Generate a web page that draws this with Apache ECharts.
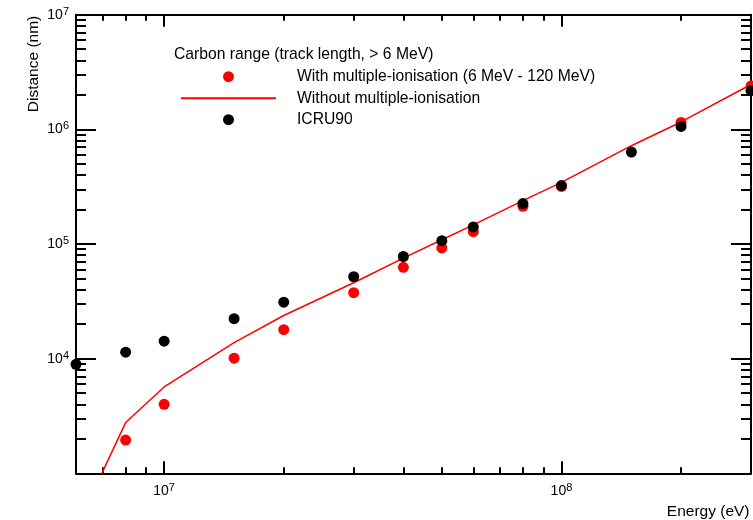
<!DOCTYPE html>
<html>
<head>
<meta charset="utf-8">
<script src="https://cdn.jsdelivr.net/npm/echarts@6/dist/echarts.min.js"></script>
<style>
html,body{margin:0;padding:0;background:#fff;}
#chart{width:753px;height:520px;}
</style>
</head>
<body>
<div id="chart"></div>
<script>
// ---- data (energies in MeV -> eV, distances in nm) ----
const MeV = 1e6;
const energyWithMI = [8, 10, 15, 20, 30, 40, 50, 60, 80, 100, 200, 300];
const distWithMI = [1950, 4000, 10100, 17900, 37600, 62600, 92500, 128000, 213000, 318000, 1148000, 2390000];

const energyWithoutMI = [6, 8, 10, 15, 20, 30, 40, 50, 60, 80, 100, 150, 200, 300];
const distWithoutMI = [330, 2770, 5660, 13780, 23800, 45900, 75200, 109000, 147000, 239000, 345000, 720000, 1160000, 2460000];

const energyICRU = [6, 8, 10, 15, 20, 30, 40, 50, 60, 80, 100, 150, 200, 300];
const distICRU = [8920, 11400, 14200, 22300, 31100, 51800, 77800, 107000, 141000, 225000, 323000, 634000, 1060000, 2180000];

const xMajorTicks = [1e7, 1e8];
const xMinorTicks = [7e6, 8e6, 9e6, 2e7, 3e7, 4e7, 5e7, 6e7, 7e7, 8e7, 9e7, 2e8];
const yLabelTicks = [1e4, 1e5, 1e6, 1e7];
const yMajorTicks = [1e4, 1e5, 1e6];
const yMinorTicks = [2e3,3e3,4e3,5e3,6e3,7e3,8e3,9e3,
                     2e4,3e4,4e4,5e4,6e4,7e4,8e4,9e4,
                     2e5,3e5,4e5,5e5,6e5,7e5,8e5,9e5,
                     2e6,3e6,4e6,5e6,6e6,7e6,8e6,9e6];

const seriesNames = [
  'With multiple-ionisation (6 MeV - 120 MeV)',
  'Without multiple-ionisation',
  'ICRU90'
];
const legendTitle = 'Carbon range (track length, > 6 MeV)';
const xName = 'Energy (eV)';
const yName = 'Distance (nm)';

const pairs = (xs, ys) => xs.map((x, i) => [x * MeV, ys[i]]);

const FONT = '"Liberation Sans", Arial, Helvetica, sans-serif';
const supFmt = v => '10{sup|' + Math.round(Math.log10(v)) + '}';
const labelRich = {
  sup: { fontSize: 11, fontFamily: FONT, color: '#000', verticalAlign: 'top', padding: [0, 0, 6, 0] }
};

function xAxisDef(position, ticks, len, showLine, showLabel) {
  return {
    type: 'log', logBase: 10, min: 6e6, max: 3e8, position: position,
    axisLine: { show: showLine, lineStyle: { color: '#000', width: 2 } },
    axisTick: { show: true, inside: true, length: len, customValues: ticks, lineStyle: { color: '#000', width: 2 } },
    axisLabel: showLabel ? {
      show: true, customValues: xMajorTicks, margin: 9, formatter: supFmt,
      color: '#000', fontSize: 14, fontFamily: FONT, rich: labelRich
    } : { show: false },
    splitLine: { show: false }, minorTick: { show: false }
  };
}
function yAxisDef(position, ticks, len, showLine, showLabel) {
  return {
    type: 'log', logBase: 10, min: 1e3, max: 1e7, position: position,
    axisLine: { show: showLine, lineStyle: { color: '#000', width: 2 } },
    axisTick: { show: true, inside: true, length: len, customValues: ticks, lineStyle: { color: '#000', width: 2 } },
    axisLabel: showLabel ? {
      show: true, customValues: yLabelTicks, margin: 7, formatter: supFmt,
      color: '#000', fontSize: 14, fontFamily: FONT, rich: labelRich
    } : { show: false },
    splitLine: { show: false }, minorTick: { show: false }
  };
}

const chart = echarts.init(document.getElementById('chart'), null, { renderer: 'canvas' });
chart.setOption({
  backgroundColor: '#fff',
  animation: false,
  grid: { left: 76, right: 2, top: 14.7, bottom: 46.7, containLabel: false, outerBoundsMode: 'none' },
  xAxis: [
    xAxisDef('bottom', xMajorTicks, 12, true, true),
    xAxisDef('top', xMajorTicks, 12, true, false),
    xAxisDef('bottom', xMinorTicks, 6, false, false),
    xAxisDef('top', xMinorTicks, 6, false, false)
  ],
  yAxis: [
    yAxisDef('left', yMajorTicks, 20, true, true),
    yAxisDef('right', yMajorTicks, 20, true, false),
    yAxisDef('left', yMinorTicks, 10, false, false),
    yAxisDef('right', yMinorTicks, 10, false, false)
  ],
  title: {
    text: legendTitle, left: 174, top: 47, padding: 0,
    textStyle: { fontSize: 15.7, fontWeight: 'normal', color: '#000', fontFamily: FONT }
  },
  legend: {
    orient: 'vertical', left: 181, top: 68.7, padding: 0,
    itemWidth: 95, itemHeight: 11, itemGap: 5.5,
    selectedMode: false, symbolKeepAspect: true,
    textStyle: { fontSize: 15.7, color: '#000', fontFamily: FONT, lineHeight: 16, padding: [0, 0, 0, 16] },
    data: [
      { name: seriesNames[0], icon: 'circle' },
      { name: seriesNames[1], icon: 'path://M0,0 H95 V2 H0 Z' },
      { name: seriesNames[2], icon: 'circle' }
    ]
  },
  graphic: [
    { type: 'text', x: 33.7, y: 64, rotation: Math.PI / 2,
      style: { text: yName, font: '15.5px ' + FONT, fill: '#000', align: 'center', verticalAlign: 'middle' } },
    { type: 'text', x: 749.5, y: 512,
      style: { text: xName, font: '15.5px ' + FONT, fill: '#000', align: 'right', verticalAlign: 'middle' } }
  ],
  series: [
    {
      name: seriesNames[0], type: 'scatter', xAxisIndex: 0, yAxisIndex: 0,
      data: pairs(energyWithMI, distWithMI), symbol: 'circle', symbolSize: 11,
      itemStyle: { color: '#ff0000', opacity: 1 }, clip: false, z: 2
    },
    {
      name: seriesNames[1], type: 'line', xAxisIndex: 0, yAxisIndex: 0,
      data: pairs(energyWithoutMI, distWithoutMI), symbol: 'none', showSymbol: false,
      lineStyle: { color: '#ff0000', width: 1.5, opacity: 1 }, itemStyle: { color: '#ff0000' }, clip: true, z: 3
    },
    {
      name: seriesNames[2], type: 'scatter', xAxisIndex: 0, yAxisIndex: 0,
      data: pairs(energyICRU, distICRU), symbol: 'circle', symbolSize: 11,
      itemStyle: { color: '#000000', opacity: 1 }, clip: false, z: 4
    }
  ]
});
</script>
</body>
</html>
